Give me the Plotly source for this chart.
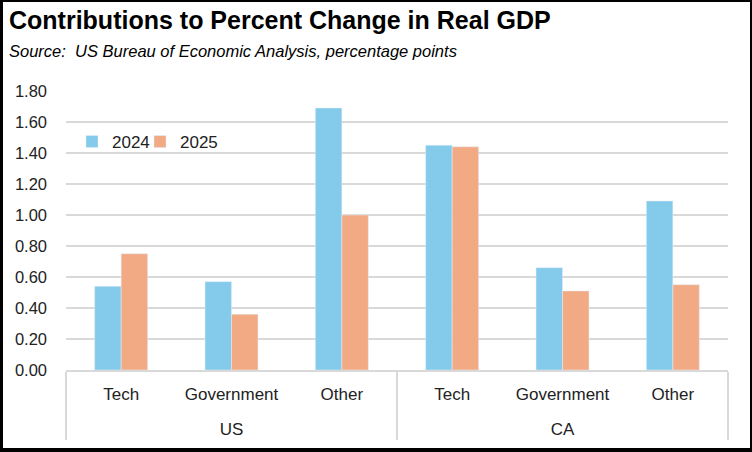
import plotly.graph_objects as go

regions = ["US", "US", "US", "CA", "CA", "CA"]
sectors = ["Tech", "Government", "Other", "Tech", "Government", "Other"]
v2024 = [0.54, 0.57, 1.69, 1.45, 0.66, 1.09]
v2025 = [0.75, 0.36, 1.00, 1.44, 0.51, 0.55]
yticks = [0.0, 0.2, 0.4, 0.6, 0.8, 1.0, 1.2, 1.4, 1.6, 1.8]

W, H = 752, 452
ml, mr, mt, mb = 66, 24, 91, 82
pw, ph = W - ml - mr, H - mt - mb

region_labels = ["<br>" + r for r in regions]

def px(x):
    return (x - ml) / pw

def py(y):
    return (H - mb - y) / ph

fig = go.Figure()
fig.add_trace(go.Bar(x=[region_labels, sectors], y=v2024, name="2024",
                     marker_color="#83CAEB", legend="legend"))
fig.add_trace(go.Bar(x=[region_labels, sectors], y=v2025, name="2025",
                     marker_color="#F1AA84", legend="legend2"))

border = [
    (0, 0, 3, H),
    (W - 2, 0, W, H),
    (0, 0, W, 2),
    (0, H - 4, W, H),
]
shapes = []
for x0, y0, x1, y1 in border:
    shapes.append(dict(type="rect", xref="paper", yref="paper",
                       x0=px(x0), x1=px(x1), y0=py(y1), y1=py(y0),
                       fillcolor="black", line_width=0, layer="above"))

legfont = dict(family="Liberation Sans, Arial", size=17, color="#222")

fig.update_layout(
    width=W, height=H,
    margin=dict(l=ml, r=mr, t=mt, b=mb, autoexpand=False),
    paper_bgcolor="white", plot_bgcolor="white",
    barmode="group", bargap=0.52, bargroupgap=0,
    showlegend=True,
    legend=dict(x=px(72), y=py(142), xanchor="left", yanchor="middle",
                font=legfont, bgcolor="rgba(0,0,0,0)", itemwidth=30),
    legend2=dict(x=px(140), y=py(142), xanchor="left", yanchor="middle",
                 font=legfont, bgcolor="rgba(0,0,0,0)", itemwidth=30),
    font=dict(family="Liberation Sans, Arial", color="#333"),
    shapes=shapes,
    annotations=[
        dict(text="<b>Contributions to Percent Change in Real GDP</b>", xref="paper", yref="paper",
             x=px(7), y=py(20), xanchor="left", yanchor="middle", showarrow=False,
             font=dict(family="Liberation Sans, Arial", size=25, color="black")),
        dict(text="<i>Source:  US Bureau of Economic Analysis, percentage points</i>", xref="paper", yref="paper",
             x=px(7), y=py(51), xanchor="left", yanchor="middle", showarrow=False,
             font=dict(family="Liberation Sans, Arial", size=16.5, color="black")),
    ],
)
fig.update_yaxes(range=[0, 1.8], tickvals=yticks, tickformat=".2f",
                 showgrid=True, gridcolor="#D9D9D9", gridwidth=1.5,
                 zeroline=False, showline=False, ticks="",
                 ticklabelstandoff=18,
                 tickfont=dict(family="Liberation Sans, Arial", size=16.5, color="#222"))
fig.update_xaxes(type="multicategory", showline=True, linecolor="#D9D9D9", linewidth=1.5,
                 showdividers=True, dividercolor="#D9D9D9", dividerwidth=1.5,
                 showgrid=False, ticks="", ticklabelstandoff=8,
                 tickfont=dict(family="Liberation Sans, Arial", size=17, color="#222"))

fig.write_html("out.html", config={"displayModeBar": False},
               post_script="document.body.style.margin='0';")
